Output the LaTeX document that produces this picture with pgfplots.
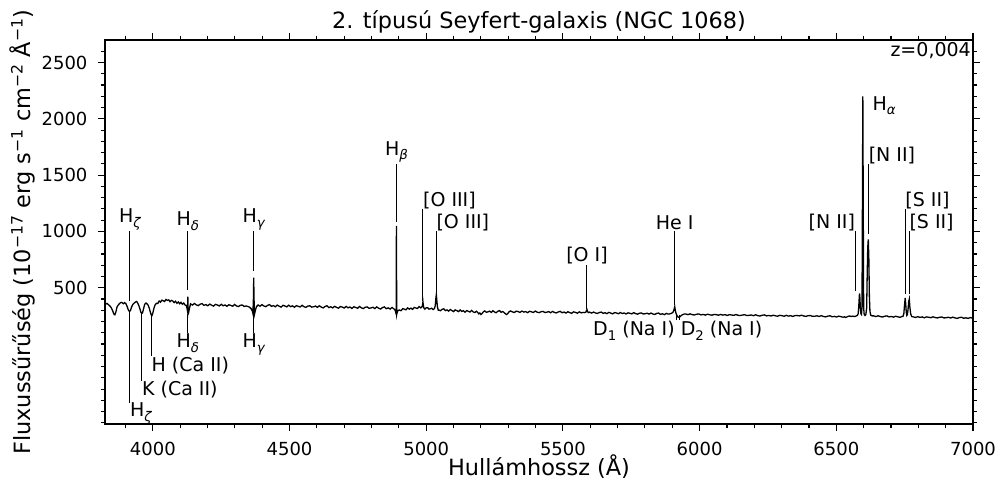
\documentclass[border=0pt]{standalone}
\usepackage{fontspec}
\setmainfont{DejaVu Sans}
\usepackage{pgfplots}
\pgfplotsset{compat=1.18}
\usepackage{pgfplotstable}

% subscripts for line names
\newcommand\lsub[1]{\raisebox{-0.24em}{\fontsize{13.3}{14}\selectfont #1}}
\newcommand\gsub[1]{\lsub{\itshape #1}}
\newcommand\lblfont{\fontsize{19}{22}\selectfont}

% observed spectrum: wavelength (A), flux (1e-17 erg/s/cm2/A)
\pgfplotstableread{
lam flux
3826 352
3832 361
3838 349
3843 338
3848 322
3853 296
3857 268
3861 260
3865 286
3869 330
3874 348
3879 362
3884 370
3888 366
3892 358
3897 368
3902 356
3906 334
3910 305
3914 290
3918 296
3922 328
3927 352
3932 364
3937 374
3941 378
3945 362
3949 340
3953 310
3956 284
3959 272
3962 276
3966 312
3970 352
3975 364
3979 356
3983 344
3987 318
3991 282
3994 258
3997 254
4000 276
4004 318
4008 346
4013 362
4018 360
4023 382
4028 372
4033 390
4038 384
4043 378
4048 396
4053 388
4058 392
4063 376
4068 388
4073 382
4078 368
4083 380
4088 362
4093 374
4098 358
4103 370
4108 354
4113 364
4118 346
4122 344
4125 318
4127 292
4128 420
4129 300
4131 282
4134 318
4138 357
4145 346
4152 360
4159 348
4166 341
4173 354
4180 359
4187 344
4194 350
4201 340
4208 355
4215 345
4222 337
4229 352
4236 347
4243 338
4250 353
4257 340
4264 347
4271 335
4278 349
4285 343
4292 336
4299 352
4306 338
4313 333
4320 344
4327 347
4334 334
4341 338
4347 334
4352 330
4356 322
4360 312
4364 292
4366 272
4368 410
4369 590
4370 410
4372 266
4375 298
4379 332
4385 347
4392 336
4399 350
4406 338
4413 332
4420 344
4427 350
4434 335
4441 341
4448 331
4455 346
4462 336
4469 328
4476 344
4483 338
4490 330
4497 345
4504 332
4511 339
4518 327
4525 341
4532 335
4539 329
4546 344
4553 331
4560 326
4567 337
4574 340
4581 328
4588 331
4595 337
4602 326
4609 340
4616 328
4623 321
4630 334
4637 340
4644 324
4651 331
4658 321
4665 335
4672 326
4679 318
4686 333
4693 328
4700 320
4707 334
4714 322
4721 329
4728 316
4735 331
4742 325
4749 318
4756 334
4763 321
4770 315
4777 327
4784 330
4791 317
4798 321
4805 327
4812 315
4819 330
4826 318
4833 311
4840 324
4847 330
4854 314
4861 321
4868 311
4875 325
4880 315
4884 308
4887 296
4889 276
4890 262
4891 1050
4892 262
4894 284
4897 298
4902 302
4908 296
4914 314
4920 310
4926 304
4932 321
4938 310
4944 319
4950 308
4956 325
4962 320
4968 316
4974 333
4980 321
4984 329
4986 340
4988 375
4989 350
4991 322
4995 310
5000 322
5005 323
5010 310
5015 313
5020 318
5025 306
5030 315
5033 340
5035 400
5037 440
5039 380
5041 330
5044 300
5046 302
5052 296
5058 308
5064 313
5070 297
5076 303
5082 292
5088 307
5094 297
5100 288
5106 303
5112 297
5118 288
5124 303
5130 290
5136 296
5142 283
5148 297
5154 291
5160 284
5166 299
5172 285
5178 280
5184 291
5188 282
5192 268
5196 276
5200 262
5204 270
5208 284
5214 294
5220 282
5226 286
5232 292
5238 281
5244 296
5250 284
5256 278
5262 291
5268 297
5274 282
5280 289
5286 277
5290 268
5294 262
5298 270
5302 284
5308 294
5315 286
5322 280
5329 292
5336 288
5343 281
5350 293
5357 284
5364 288
5371 279
5378 291
5385 286
5392 280
5399 293
5406 283
5413 279
5420 287
5427 290
5434 280
5441 283
5448 288
5455 278
5462 290
5469 281
5476 276
5483 285
5490 290
5497 278
5504 284
5511 275
5518 287
5525 279
5532 273
5539 286
5546 281
5553 274
5560 286
5567 277
5574 281
5580 279
5584 283
5586 296
5588 306
5590 290
5593 279
5598 283
5605 275
5612 284
5619 276
5626 272
5633 280
5640 284
5647 273
5654 278
5661 270
5668 281
5675 275
5682 268
5689 279
5696 276
5703 269
5710 280
5717 271
5724 276
5731 267
5738 277
5745 273
5752 268
5759 279
5766 270
5773 265
5780 274
5787 276
5794 267
5801 269
5808 274
5815 266
5822 275
5829 267
5836 263
5843 272
5850 275
5857 264
5864 269
5871 261
5878 272
5885 266
5891 268
5897 273
5902 280
5905 296
5907 312
5909 332
5911 300
5913 278
5916 258
5919 246
5922 238
5925 236
5928 242
5932 252
5937 260
5943 266
5949 267
5957 261
5965 268
5973 261
5981 258
5989 265
5997 267
6005 259
6013 263
6021 257
6029 265
6037 260
6045 256
6053 263
6061 261
6069 256
6077 263
6085 257
6093 261
6101 254
6109 261
6117 258
6125 255
6133 262
6141 255
6149 253
6157 258
6165 260
6173 253
6181 255
6189 258
6197 252
6205 260
6213 252
6221 249
6229 256
6237 259
6245 250
6253 254
6261 249
6269 256
6277 251
6285 247
6293 255
6301 252
6309 247
6317 255
6325 248
6333 252
6341 245
6349 253
6357 253
6365 250
6373 256
6381 249
6389 246
6397 252
6405 253
6413 246
6421 247
6429 251
6437 245
6445 252
6453 245
6461 241
6469 248
6477 251
6485 242
6493 246
6501 240
6509 248
6517 243
6525 238
6530 242
6534 236
6538 240
6543 246
6549 249
6555 245
6561 248
6567 244
6572 249
6577 254
6580 270
6582 330
6584 420
6585 450
6586 420
6588 320
6590 268
6592 262
6594 330
6595.5 1250
6597 2200
6598.5 1250
6600 320
6602 262
6605 254
6608 262
6611 320
6613 620
6615 860
6617 930
6619 760
6621 420
6623 290
6626 256
6631 250
6637 250
6645 244
6653 251
6661 244
6669 240
6677 247
6685 250
6693 241
6701 245
6709 239
6717 247
6725 242
6733 237
6740 245
6744 246
6747 270
6750 360
6752 410
6754 350
6756 280
6758 254
6760 262
6762 300
6765 380
6767 400
6769 330
6772 268
6776 244
6782 241
6790 236
6798 243
6806 237
6814 241
6822 233
6830 241
6838 238
6846 234
6854 242
6862 235
6870 232
6878 238
6886 240
6894 232
6902 234
6910 238
6918 231
6926 239
6934 232
6942 228
6950 235
6958 238
6966 229
6974 233
6982 228
6990 235
6998 230
7000 231
}\spectrum

\begin{document}
\begin{tikzpicture}
\begin{axis}[
  at={(0,0)}, anchor=south west,
  scale only axis, width=868pt, height=384pt,
  xmin=3825, xmax=7000, ymin=-710, ymax=2700,
  xtick={4000,4500,...,7000},
  minor xtick={3900,4000,...,7000},
  ytick={500,1000,...,2500},
  minor ytick={-700,-600,...,2600},
  scaled ticks=false,
  /pgf/number format/1000 sep={},
  /pgf/number format/assume math mode=true,
  tick align=outside,
  major tick length=7pt, minor tick length=4pt,
  every tick/.style={black, line width=1.1pt},
  axis line style={line width=1.2pt},
  tick label style={font=\fontsize{18}{20}\selectfont},
  xticklabel style={yshift=-8pt},
  yticklabel style={xshift=-7pt},
  title={2. típusú Seyfert-galaxis (NGC 1068)},
  title style={at={(rel axis cs:0.5,1)}, anchor=center, yshift=12pt,
    font=\fontsize{22.4}{26}\selectfont},
  xlabel={Hullámhossz (Å)},
  xlabel style={at={(rel axis cs:0.5,0)}, anchor=center, yshift=-43pt,
    font=\fontsize{22.4}{26}\selectfont},
  ylabel={Fluxussűrűség (10\textsuperscript{−17} erg s\textsuperscript{−1} cm\textsuperscript{−2} Å\textsuperscript{−1})},
  every axis y label/.style={at={(rel axis cs:-0.0956,0.5)}, rotate=90, anchor=center,
    font=\fontsize{22.4}{26}\selectfont},
  clip=false,
]
\addplot[black, line width=1.3pt] table[x=lam, y=flux] {\spectrum};

% line markers above the spectrum
\addplot[black, line width=1pt] coordinates {(3916,1000) (3916,380)};
\addplot[black, line width=1pt] coordinates {(4128,1000) (4128,480)};
\addplot[black, line width=1pt] coordinates {(4369,1000) (4369,650)};
\addplot[black, line width=1pt] coordinates {(4891,1600) (4891,1080)};
\addplot[black, line width=1pt] coordinates {(4988,1200) (4988,380)};
\addplot[black, line width=1pt] coordinates {(5037,1000) (5037,460)};
\addplot[black, line width=1pt] coordinates {(5588,700) (5588,310)};
\addplot[black, line width=1pt] coordinates {(5909,1000) (5909,345)};
\addplot[black, line width=1pt] coordinates {(6569,1000) (6569,470)};
\addplot[black, line width=1pt] coordinates {(6618,1600) (6618,980)};
\addplot[black, line width=1pt] coordinates {(6752,1200) (6752,440)};
\addplot[black, line width=1pt] coordinates {(6767,1000) (6767,440)};
% line markers below the spectrum
\addplot[black, line width=1pt] coordinates {(3916,290) (3916,-520)};
\addplot[black, line width=1pt] coordinates {(3960,275) (3960,-330)};
\addplot[black, line width=1pt] coordinates {(3995,250) (3995,-110)};
\addplot[black, line width=1pt] coordinates {(4128,270) (4128,100)};
\addplot[black, line width=1pt] coordinates {(4369,265) (4369,100)};
\addplot[black, line width=1pt] coordinates {(5915,262) (5915,215)};
\addplot[black, line width=1pt] coordinates {(5925,262) (5925,215)};

% line names
\begin{scope}[every node/.style={font=\lblfont, inner sep=1pt}]
\node[anchor=south] at (axis cs:3916,1000) {H\gsub{ζ}};
\node[anchor=south] at (axis cs:4128,1000) {H\gsub{δ}};
\node[anchor=south] at (axis cs:4369,1000) {H\gsub{γ}};
\node[anchor=south] at (axis cs:4891,1600) {H\gsub{β}};
\node[anchor=south west, inner sep=0pt] at (axis cs:4988,1200) {[O III]};
\node[anchor=south west, inner sep=0pt] at (axis cs:5037,1000) {[O III]};
\node[anchor=south] at (axis cs:5588,700) {[O I]};
\node[anchor=south] at (axis cs:5909,1000) {He I};
\node[anchor=south east, inner sep=0pt] at (axis cs:6569,1000) {[N II]};
\node[anchor=north west, inner sep=0pt] at (axis cs:6632,2200) {H\gsub{α}};
\node[anchor=south west, inner sep=0pt] at (axis cs:6618,1600) {[N II]};
\node[anchor=south west, inner sep=0pt] at (axis cs:6752,1200) {[S II]};
\node[anchor=south west, inner sep=0pt] at (axis cs:6767,1000) {[S II]};
\node[anchor=north west, inner sep=0pt] at (axis cs:3916,-520) {H\gsub{ζ}};
\node[anchor=north west, inner sep=0pt] at (axis cs:3960,-330) {K (Ca II)};
\node[anchor=north west, inner sep=0pt] at (axis cs:3995,-110) {H (Ca II)};
\node[anchor=north] at (axis cs:4128,100) {H\gsub{δ}};
\node[anchor=north] at (axis cs:4369,100) {H\gsub{γ}};
\node[anchor=north east, inner sep=1.5pt] at (axis cs:5915,215) {D\lsub{1} (Na I)};
\node[anchor=north west, inner sep=1.5pt] at (axis cs:5925,215) {D\lsub{2} (Na I)};
\node[anchor=north east, inner sep=2pt] at (rel axis cs:1,1) {z=0,004};
\end{scope}
\end{axis}
\pgfresetboundingbox
\path[use as bounding box] (-105pt,-66pt) rectangle (901pt,424pt);
\end{tikzpicture}
\end{document}
